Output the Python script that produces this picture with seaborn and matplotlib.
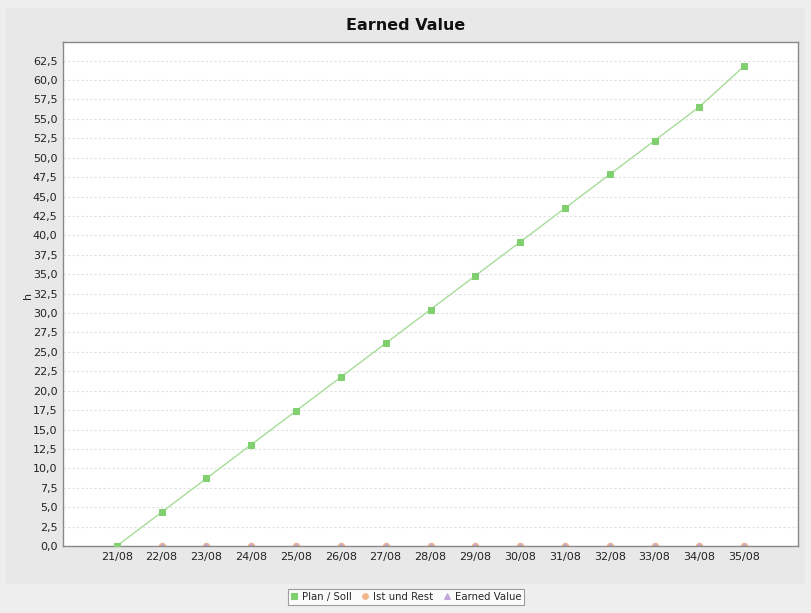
import numpy as np
import pandas as pd
import matplotlib
matplotlib.use("Agg")
import matplotlib.pyplot as plt
from matplotlib.patches import Rectangle
from matplotlib.ticker import FuncFormatter, MultipleLocator
import seaborn as sns

# data
weeks = ["21/08", "22/08", "23/08", "24/08", "25/08", "26/08", "27/08", "28/08",
         "29/08", "30/08", "31/08", "32/08", "33/08", "34/08", "35/08"]
plan_soll = [0.0, 4.35, 8.7, 13.05, 17.4, 21.75, 26.1, 30.45,
             34.8, 39.15, 43.5, 47.85, 52.2, 56.55, 61.8]
ist_und_rest = [0.0] * 15
earned_value = [0.0] * 15

df = pd.DataFrame({"week": weeks, "Plan / Soll": plan_soll,
                   "Ist und Rest": ist_und_rest, "Earned Value": earned_value})

sns.set_style("white")
plt.rcParams["font.family"] = ["DejaVu Sans"]

fig = plt.figure(figsize=(8.12, 6.13), dpi=100, facecolor="#eeeeee")
W, H = 812, 613
# chart panel background
fig.patches.append(Rectangle((6 / W, 1 - 584 / H), 799 / W, 576 / H,
                             transform=fig.transFigure, facecolor="#e8e8e8",
                             edgecolor="none", zorder=-5))

ax = fig.add_axes([63 / W, 1 - 546 / H, 735 / W, 504 / H])
ax.set_facecolor("white")

x = np.arange(len(weeks))
sns.lineplot(x=x, y=df["Plan / Soll"], ax=ax, color="#a6dc98", linewidth=1,
             marker="s", markersize=4.6, markerfacecolor="#80d070",
             markeredgecolor="#80d070", label="Plan / Soll", zorder=3,
             clip_on=True)
sns.lineplot(x=x, y=df["Ist und Rest"], ax=ax, color="#f4b58a", linewidth=0,
             marker="o", markersize=4.6, markerfacecolor="#f4b58a",
             markeredgecolor="#f4b58a", label="Ist und Rest", zorder=2,
             clip_on=True)
sns.lineplot(x=x, y=df["Earned Value"], ax=ax, color="#b0a8de", linewidth=0,
             marker="^", markersize=4.6, markerfacecolor="#c0a8d8",
             markeredgecolor="#c0a8d8", label="Earned Value", zorder=2.5,
             clip_on=True)

ax.set_xlim(-1.2, len(weeks) - 1 + 1.2)
ax.set_ylim(0, 64.9)
ax.set_xticks(x)
ax.set_xticklabels(weeks)
ax.yaxis.set_major_locator(MultipleLocator(2.5))
ax.yaxis.set_major_formatter(FuncFormatter(lambda v, p: f"{v:.1f}".replace(".", ",")))
ax.grid(axis="y", color="#e0e0e0", linestyle=(0, (2, 2)), linewidth=0.8)
ax.set_axisbelow(True)
for s in ax.spines.values():
    s.set_color("#888888")
    s.set_linewidth(1)
ax.tick_params(axis="both", labelsize=8, colors="#222222", length=2,
               width=0.8, direction="out", pad=2)
ax.tick_params(axis="both", color="#888888")
ax.set_xlabel("")
ax.set_ylabel("")
fig.text(28 / W, 1 - 295 / H, "h", rotation=90, ha="center", va="center",
         fontsize=8, color="#222222")

fig.text(0.5, 1 - 25 / H, "Earned Value", ha="center", va="center",
         fontsize=11.5, fontweight="bold", color="#111111")

leg = ax.legend(loc="center", bbox_to_anchor=(406 / W, 1 - 597 / H),
                bbox_transform=fig.transFigure, ncol=3, fontsize=7.3,
                frameon=True, fancybox=False, edgecolor="#888888",
                borderpad=0.3, handlelength=0.6, handletextpad=0.5,
                columnspacing=1.0, markerscale=0.9)
leg.get_frame().set_linewidth(0.8)
for h in leg.legend_handles:
    h.set_linestyle("none")

fig.savefig("out.png", dpi=100, facecolor=fig.get_facecolor())
